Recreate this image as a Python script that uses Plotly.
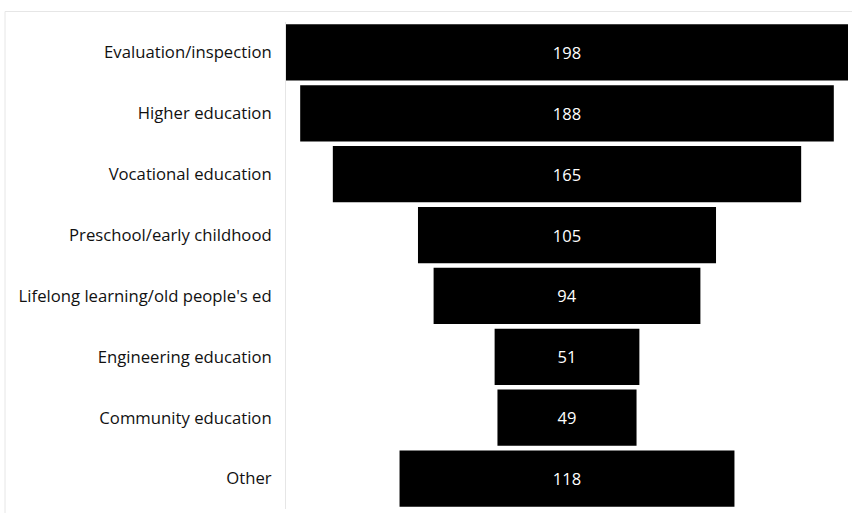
import plotly.graph_objects as go

# Number of items per education field
categories = [
    "Evaluation/inspection",
    "Higher education",
    "Vocational education",
    "Preschool/early childhood",
    "Lifelong learning/old people's ed",
    "Engineering education",
    "Community education",
    "Other",
]
counts = [198, 188, 165, 105, 94, 51, 49, 118]

W, H = 852, 513
M_L, M_R, M_T, M_B = 286, 4, 21.5, 4
plot_w = W - M_L - M_R
plot_h = H - M_T - M_B

FONT = "Open Sans, sans-serif"

fig = go.Figure(
    go.Funnel(
        y=categories,
        x=counts,
        marker=dict(color="#000000"),
        textinfo="value",
        textposition="inside",
        insidetextanchor="middle",
        textfont=dict(color="#ffffff", size=16.5, family=FONT),
        connector=dict(visible=False),
        hoverinfo="y+x",
    )
)

# light chart frame (left/top edges visible, right/bottom off-canvas)
x0 = (5 - M_L) / plot_w
y1 = 1 + (M_T - 11) / plot_h
fig.add_shape(
    type="rect", xref="paper", yref="paper",
    x0=x0, x1=1 + (M_R + 20) / plot_w, y0=-(M_B + 20) / plot_h, y1=y1,
    line=dict(color="#e6e6e6", width=1), layer="below",
)

vmax = max(counts)
fig.update_layout(
    width=W, height=H,
    margin=dict(l=M_L, r=M_R, t=M_T, b=M_B, pad=0),
    paper_bgcolor="#ffffff",
    plot_bgcolor="#ffffff",
    funnelgap=0.075,
    showlegend=False,
    font=dict(family=FONT, size=16.7, color="#111111"),
    xaxis=dict(range=[-vmax / 2, vmax / 2], visible=False),
    yaxis=dict(
        showline=True, linecolor="#e6e6e6", linewidth=1,
        showgrid=False, ticks="", ticklabelstandoff=10,
        tickfont=dict(size=16.7, family=FONT, color="#111111"),
    ),
)

fig.write_html("out.html")
